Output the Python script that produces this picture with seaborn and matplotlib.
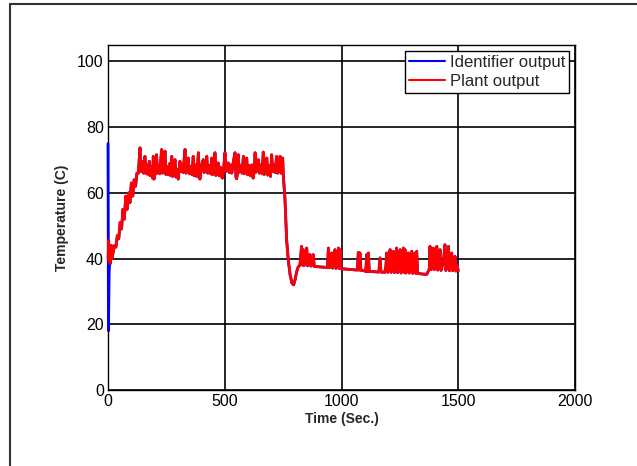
import matplotlib
matplotlib.use("Agg")
import matplotlib.pyplot as plt
from matplotlib.lines import Line2D
import seaborn as sns
import pandas as pd

# ---- data ----
plant_time = [
    0, 3, 6, 10, 14, 18, 22, 28, 34, 40, 46, 52, 58, 64, 70, 76, 82, 88, 94, 100, 106, 112, 118, 124,
    130, 137, 141, 147, 152, 158, 163, 170, 174, 177, 181, 188, 191, 194, 197, 203, 208, 212, 218, 222,
    226, 230, 234, 240, 244, 248, 255, 259, 265, 269, 273, 277, 282, 287, 291, 296, 301, 304, 308, 312,
    318, 322, 326, 330, 334, 340, 344, 348, 355, 360, 365, 369, 376, 380, 387, 391, 394, 398, 402, 408,
    412, 418, 423, 427, 434, 439, 444, 448, 454, 458, 462, 468, 472, 476, 482, 487, 490, 495, 501, 505,
    510, 515, 519, 526, 530, 537, 544, 548, 551, 555, 558, 562, 569, 574, 580, 584, 590, 594, 598, 605,
    610, 616, 620, 622, 626, 630, 634, 640, 644, 648, 655, 660, 665, 669, 675, 680, 684, 690, 696, 701,
    705, 712, 716, 722, 726, 732, 737, 741, 745, 748, 751, 758, 765, 772, 780, 788, 795, 801, 808, 815,
    822, 829, 833, 836, 840, 845, 851, 855, 860, 865, 869, 875, 879, 883, 900, 920, 940, 944, 948, 954,
    958, 962, 968, 972, 976, 982, 987, 990, 994, 998, 1020, 1050, 1068, 1072, 1075, 1079, 1083, 1100,
    1104, 1108, 1111, 1115, 1119, 1140, 1160, 1165, 1169, 1185, 1190, 1194, 1198, 1204, 1208, 1212,
    1218, 1222, 1226, 1232, 1236, 1240, 1246, 1251, 1255, 1261, 1265, 1268, 1272, 1276, 1282, 1286,
    1290, 1296, 1301, 1305, 1311, 1315, 1318, 1322, 1326, 1345, 1365, 1372, 1376, 1379, 1383, 1389,
    1393, 1397, 1403, 1408, 1412, 1418, 1422, 1426, 1432, 1438, 1443, 1447, 1453, 1458, 1462, 1468,
    1472, 1476, 1482, 1486, 1490, 1495, 1500,
]
plant_temp = [
    40.0, 45.5, 39.0, 38.5, 44.0, 40.0, 42.0, 44.0, 43.5, 47.0, 46.0, 51.0, 49.0, 55.0, 52.0, 59.0, 55.0,
    60.0, 57.0, 63.0, 59.0, 64.0, 62.0, 66.0,
    66.0, 73.7, 66.5, 69.5, 66.0, 71.1, 65.8, 68.5, 65.5, 69.6, 65.2, 68.0, 64.5, 71.1, 64.2, 66.2, 71.6,
    66.0, 68.3, 65.8, 70.0, 73.2, 66.0, 68.5, 72.7, 65.6, 68.0, 65.5, 69.0, 65.2, 71.1, 65.0, 68.0, 70.1,
    64.8, 67.2, 64.2, 66.5, 69.6, 66.5, 68.5, 66.2, 70.0, 73.2, 66.0, 68.5, 70.6, 65.8, 68.0, 65.5, 71.1,
    65.2, 68.5, 65.0, 72.2, 64.5, 64.2, 66.6, 68.8, 70.1, 66.2, 68.0, 71.1, 66.0, 68.3, 65.8, 70.6, 65.5,
    68.0, 72.2, 65.3, 67.5, 69.1, 65.2, 67.8, 64.8, 64.5, 67.0, 72.2, 66.5, 68.0, 69.1, 66.2, 68.5, 66.0,
    69.5, 72.2, 64.8, 64.3, 66.5, 71.6, 66.3, 68.2, 66.0, 71.1, 65.8, 68.0, 70.6, 65.5, 68.3, 65.2, 68.5,
    64.8, 64.5, 66.5, 72.2, 66.3, 68.0, 70.1, 66.0, 68.5, 65.8, 72.4, 65.6, 68.0, 70.6, 65.4, 68.2, 65.0,
    71.6, 66.5, 68.5, 66.2, 71.1, 66.0, 68.3, 71.1, 66.0, 70.0, 70.6, 65.0, 58.0, 45.7, 39.6, 35.0, 32.5,
    32.0, 33.5, 36.0, 37.5,
    38.0, 43.7, 38.0, 42.7, 37.9, 39.5, 43.2, 37.8, 38.5, 41.2, 37.7, 38.2, 41.2, 37.6, 37.5, 37.4, 37.3,
    43.2, 37.2, 38.0, 41.7, 37.1, 38.5, 42.7, 37.0, 39.0, 43.2, 37.0, 42.7, 36.9, 36.8, 36.6, 36.5, 41.9,
    36.5, 41.7, 36.4, 36.3, 36.0, 41.2, 36.0, 41.7, 36.1, 36.0, 35.9, 40.2, 35.9, 35.8, 37.5, 41.7, 35.8,
    38.0, 42.7, 35.8, 38.5, 42.2, 35.7, 39.0, 43.2, 35.7, 38.0, 42.7, 35.6, 39.0, 43.2, 35.8, 42.7, 35.6,
    38.0, 41.7, 35.6, 38.0, 42.2, 35.5, 37.5, 41.7, 35.5, 42.2, 35.5, 35.3, 35.2, 36.2, 36.8, 43.7, 36.6,
    38.5, 43.2, 36.6, 38.0, 43.7, 36.5, 38.5, 42.7, 36.4, 38.0, 40.0, 44.2, 36.4, 39.0, 43.7, 36.3, 38.0,
    41.7, 36.3, 38.0, 40.7, 36.2, 38.0, 36.3,
]

# identifier output: same as plant after the first seconds, with an initial transient
ident_start_time = [0, 1, 2, 5, 8]
ident_start_temp = [75.0, 45.0, 18.0, 36.0, 39.0]

x_ticks = [0, 500, 1000, 1500, 2000]
y_ticks = [0, 20, 40, 60, 80, 100]

# ---- build tables ----
cut = next(i for i, t in enumerate(plant_time) if t >= 10)
ident_time = ident_start_time + plant_time[cut:]
ident_temp = ident_start_temp + plant_temp[cut:]
df_plant = pd.DataFrame({"Time": plant_time, "Temp": plant_temp})
df_ident = pd.DataFrame({"Time": ident_time, "Temp": ident_temp})

sns.set_theme(style="white")
plt.rcParams["font.family"] = ["Liberation Sans", "DejaVu Sans"]

fig = plt.figure(figsize=(6.37, 4.66), dpi=100)
fig.patch.set_facecolor("white")
ax = fig.add_axes([108 / 637, 1 - 390 / 466, (575 - 108) / 637, (390 - 45) / 466])

sns.lineplot(data=df_ident, x="Time", y="Temp", ax=ax, color="#0000ff", lw=2.0,
             sort=False, estimator=None, label="Identifier output", zorder=3)
sns.lineplot(data=df_plant, x="Time", y="Temp", ax=ax, color="#ff0000", lw=2.0,
             sort=False, estimator=None, label="Plant output", zorder=4)
for ln in ax.get_lines():
    ln.set_clip_on(False)

ax.set_xlim(0, 2000)
ax.set_ylim(0, 105)
ax.set_xticks(x_ticks)
ax.set_yticks(y_ticks)
ax.set_xticklabels([str(v) for v in x_ticks], fontsize=11.5)
ax.set_yticklabels([str(v) for v in y_ticks], fontsize=11.5)
ax.tick_params(direction="in", length=4, width=1, colors="black", pad=3)
ax.grid(True, color="black", lw=1.2, ls="-")
ax.set_axisbelow(True)
for s in ax.spines.values():
    s.set_color("black")
    s.set_linewidth(1.0)

ax.set_xlabel("Time (Sec.)", fontsize=10, fontweight="bold", labelpad=2)
ax.set_ylabel("Temperature (C)", fontsize=10, fontweight="bold", labelpad=6)

leg = ax.legend(loc="upper right", fontsize=12, frameon=True, fancybox=False,
                edgecolor="black", framealpha=1, borderpad=0.25, labelspacing=0.25,
                handlelength=2.2, handletextpad=0.25, borderaxespad=0.35)
leg.set_zorder(10)
leg.get_frame().set_linewidth(1.0)
for h in leg.get_lines():
    h.set_linewidth(1.5)

# outer frame (top and left edges)
fig.add_artist(Line2D([10 / 637, 10 / 637], [0, 1 - 4 / 466], transform=fig.transFigure,
                      color="#333333", lw=1.5))
fig.add_artist(Line2D([10 / 637, 1], [1 - 4 / 466, 1 - 4 / 466], transform=fig.transFigure,
                      color="#333333", lw=1.5))

fig.savefig("out.png", dpi=100)
